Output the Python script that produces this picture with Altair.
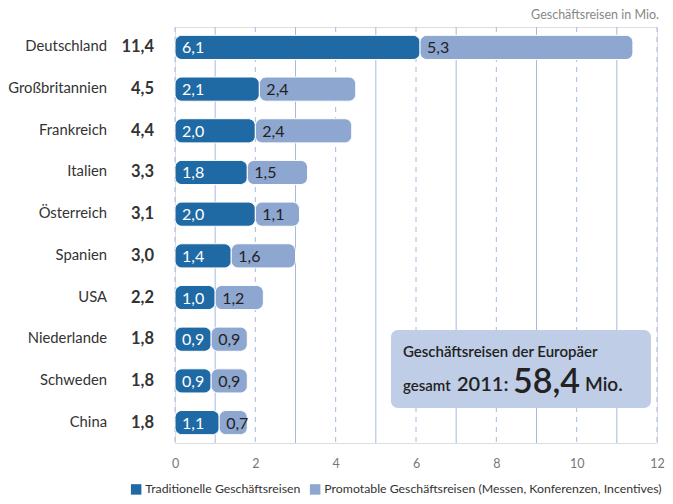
import altair as alt
import pandas as pd

countries = ["Deutschland", "Großbritannien", "Frankreich", "Italien", "Österreich",
             "Spanien", "USA", "Niederlande", "Schweden", "China"]
trad = [6.1, 2.1, 2.0, 1.8, 2.0, 1.4, 1.0, 0.9, 0.9, 1.1]
promo = [5.3, 2.4, 2.4, 1.5, 1.1, 1.6, 1.2, 0.9, 0.9, 0.7]
totals = [11.4, 4.5, 4.4, 3.3, 3.1, 3.0, 2.2, 1.8, 1.8, 1.8]
series = ["Traditionelle Geschäftsreisen",
          "Promotable Geschäftsreisen (Messen, Konferenzen, Incentives)"]
grid_values = list(range(0, 13))
tick_values = [0, 2, 4, 6, 8, 10, 12]
unit_title = "Geschäftsreisen in Mio."
box_line1 = "Geschäftsreisen der Europäer"
box_word = "gesamt"
box_year = "2011:"
box_total = 58.4
box_unit = "Mio."

DARK = "#1f6aa5"
LIGHT = "#8ea7d1"
GRID = "#a6badf"
TEXT = "#333333"
FONT = "Lato"

W, H = 482, 416

rows = []
for c, t, p, s in zip(countries, trad, promo, totals):
    rows.append({"country": c, "series": series[0], "start": 0.0, "end": t, "val": t, "total": s})
    rows.append({"country": c, "series": series[1], "start": t, "end": t + p, "val": p, "total": s})
df = pd.DataFrame(rows)
df_tot = pd.DataFrame({"country": countries, "total": totals})
df_grid = pd.DataFrame({"v": grid_values, "odd": [v % 2 == 1 for v in grid_values]})
one = pd.DataFrame({"a": [1]})

x_scale = alt.Scale(domain=[0, 12], nice=False, zero=True)
y_scale = alt.Scale(domain=countries, paddingInner=0.42, paddingOuter=0.2)

y_enc = alt.Y("country:N", scale=y_scale, sort=countries, axis=None)

grid_odd = alt.Chart(df_grid).transform_filter("datum.odd").mark_rule(
    color=GRID, strokeWidth=1
).encode(
    x=alt.X("v:Q", scale=x_scale,
            axis=alt.Axis(values=tick_values, domain=False, ticks=False, grid=False,
                          labelPadding=14, labelFontSize=12.5, labelColor="#777777",
                          labelFont=FONT, labelFlush=False, title=None)),
    y=alt.value(0), y2=alt.value(H),
)
grid_even = alt.Chart(df_grid).transform_filter("!datum.odd").mark_rule(
    color=GRID, strokeWidth=1, strokeDash=[5, 5]
).encode(
    x=alt.X("v:Q", scale=x_scale),
    y=alt.value(0), y2=alt.value(H),
)

color_enc = alt.Color("series:N",
                      scale=alt.Scale(domain=series, range=[DARK, LIGHT]),
                      legend=alt.Legend(orient="none", legendX=-45, legendY=456,
                                        direction="horizontal", title=None,
                                        symbolType="square", symbolSize=110,
                                        symbolStrokeWidth=0, labelFontSize=12.3,
                                        labelColor=TEXT, labelFont=FONT, labelLimit=0,
                                        columnPadding=8, labelOffset=3))

bars = alt.Chart(df).mark_bar(cornerRadius=7, stroke="white", strokeWidth=1).encode(
    x=alt.X("start:Q", scale=x_scale),
    x2="end:Q",
    y=y_enc,
    color=color_enc,
)

val_text = alt.Chart(df).transform_calculate(
    lab="replace(format(datum.val, '.1f'), '.', ',')"
).mark_text(align="left", baseline="middle", dx=7, dy=1, fontSize=16, font=FONT).encode(
    x=alt.X("start:Q", scale=x_scale),
    y=y_enc,
    text="lab:N",
    color=alt.Color("series:N", scale=alt.Scale(domain=series, range=["white", "#222222"]),
                    legend=None),
)

country_text = alt.Chart(df_tot).mark_text(
    align="right", baseline="middle", fontSize=14.8, font=FONT, color=TEXT
).encode(x=alt.value(-68), y=y_enc, text="country:N")

total_text = alt.Chart(df_tot).transform_calculate(
    lab="replace(format(datum.total, '.1f'), '.', ',')"
).mark_text(
    align="right", baseline="middle", fontSize=16.5, font=FONT, fontWeight="bold", color=TEXT
).encode(x=alt.value(-21), y=y_enc, text="lab:N")

title_text = alt.Chart(one).mark_text(
    align="right", baseline="middle", fontSize=12.5, font=FONT, color="#888888"
).encode(x=alt.value(W + 2), y=alt.value(-12), text=alt.value(unit_title))

box = alt.Chart(one).mark_rect(cornerRadius=7, color="#bfcde6").encode(
    x=alt.value(216), x2=alt.value(476), y=alt.value(303), y2=alt.value(381)
)

def btext(txt, x, y, size):
    return alt.Chart(one).mark_text(
        align="left", baseline="alphabetic", fontSize=size, font=FONT,
        fontWeight=600, color="#222222"
    ).encode(x=alt.value(x), y=alt.value(y), text=alt.value(txt))

box_texts = [
    btext(box_line1, 228, 330, 15),
    btext(box_word, 228, 364, 15),
    btext(box_year, 282, 364, 20),
    btext(f"{box_total:.1f}".replace(".", ","), 338, 366, 34),
    btext(box_unit, 410, 364, 19),
]

chart = alt.layer(
    grid_odd, grid_even, bars, val_text, country_text, total_text, title_text, box, *box_texts
).resolve_scale(color="independent").properties(
    width=W, height=H,
    autosize=alt.AutoSizeParams(type="none"),
    padding={"left": 167, "top": 19, "right": 8, "bottom": 53},
).configure_view(stroke=None).configure(font=FONT)

chart.save("out.html", embed_options={"renderer": "svg", "actions": False})
